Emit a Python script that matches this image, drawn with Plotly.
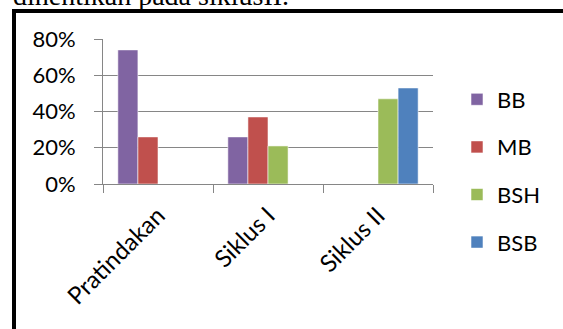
import plotly.graph_objects as go

categories = ["Pratindakan", "Siklus I", "Siklus II"]
series_names = ["BB", "MB", "BSH", "BSB"]
bb = [0.74, 0.26, None]
mb = [0.26, 0.37, None]
bsh = [None, 0.21, 0.47]
bsb = [None, None, 0.53]
y_ticks = [0, 0.2, 0.4, 0.6, 0.8]
colors = ["#8064A2", "#C0504D", "#9BBB59", "#4F81BD"]
caption = "dihentikan pada siklusII."

W, H = 563, 329
L, R, T, B = 103, 130, 39, 145
font_family = "Lato, Open Sans, sans-serif"

fig = go.Figure()
for name, vals, col in zip(series_names, [bb, mb, bsh, bsb], colors):
    fig.add_trace(go.Bar(
        x=categories, y=vals, name=name, legendgroup=name,
        marker=dict(color=col, line=dict(color="rgba(255,255,255,0.55)", width=1)),
    ))

def px_x(p):
    return (p - L) / (W - L - R)

def px_y(p):
    return (H - B - p) / (H - T - B)

fig.update_layout(
    width=W, height=H,
    margin=dict(l=L, r=R, t=T, b=B, pad=0),
    paper_bgcolor="white", plot_bgcolor="white",
    barmode="group", bargap=0.27, bargroupgap=0,
    font=dict(family=font_family, size=22, color="black"),
    showlegend=True,
    legend=dict(x=px_x(457), xanchor="left", y=px_y(171), yanchor="middle",
                font=dict(size=22), tracegroupgap=16, traceorder="grouped",
                maxheight=320, bgcolor="rgba(0,0,0,0)"),
    xaxis=dict(
        showgrid=False, showline=True, linecolor="#868686", linewidth=1,
        ticks="outside", tickson="boundaries", ticklen=8, tickcolor="#868686",
        tickangle=-45, tickfont=dict(size=24), ticklabelstandoff=7,
    ),
    yaxis=dict(
        range=[0, 0.8], tickvals=y_ticks, tickformat=".0%",
        showgrid=True, gridcolor="#868686", gridwidth=1,
        showline=True, linecolor="#868686", linewidth=1,
        ticks="outside", ticklen=8, tickcolor="#868686",
        ticklabelstandoff=14, zeroline=False, tickfont=dict(size=22),
    ),
    shapes=[
        dict(type="line", xref="paper", yref="paper",
             x0=px_x(14), x1=px_x(14), y0=px_y(9), y1=px_y(400),
             line=dict(color="black", width=4)),
        dict(type="line", xref="paper", yref="paper",
             x0=px_x(12), x1=px_x(600), y0=px_y(11), y1=px_y(11),
             line=dict(color="black", width=4)),
    ],
    annotations=[
        dict(text=caption, xref="paper", yref="paper", x=px_x(11), y=px_y(13),
             xanchor="left", yanchor="bottom", showarrow=False,
             font=dict(family="Liberation Serif, serif", size=28, color="black")),
    ],
)

fig.write_html("out.html")
